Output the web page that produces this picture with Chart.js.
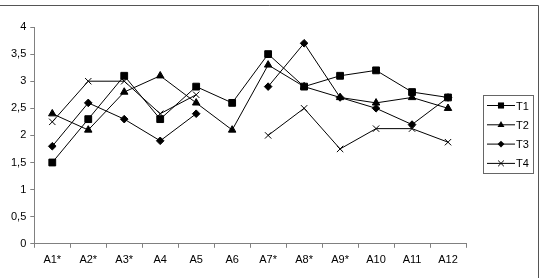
<!DOCTYPE html>
<html>
<head>
<meta charset="utf-8">
<script src="https://cdn.jsdelivr.net/npm/chart.js@4/dist/chart.umd.min.js"></script>
<style>
html,body{margin:0;padding:0;background:#fff;}
#wrap{width:541px;height:278px;position:relative;}
</style>
</head>
<body>
<div id="wrap"><canvas id="grafico"></canvas></div>
<script>
// datos
const categorias=['A1*','A2*','A3*','A4','A5','A6','A7*','A8*','A9*','A10','A11','A12'];
const t1=[1.5,2.3,3.1,2.3,2.9,2.6,3.5,2.9,3.1,3.2,2.8,2.7];
const t2=[2.4,2.1,2.8,3.1,2.6,2.1,3.3,2.9,2.7,2.6,2.7,2.5];
const t3=[1.8,2.6,2.3,1.9,2.4,null,2.9,3.7,2.7,2.5,2.2,2.7];
const t4=[2.25,3,3,2.4,2.75,null,2,2.5,1.75,2.125,2.125,1.875];
const series=['T1','T2','T3','T4'];
const ticksY=[0,0.5,1,1.5,2,2.5,3,3.5,4];

const fuente="'Liberation Sans', Arial, sans-serif";
const marcas=['rect','triangle','rectRot','crossRot'];
const radios=[4.8,4.3,3.8,4.5];

function dibujarMarca(ctx,tipo,x,y,r){
    ctx.beginPath();
    if(tipo=='rect'){
        let s=Math.SQRT1_2*r;
        ctx.rect(x-s,y-s,2*s,2*s);
        ctx.fill();
    }else if(tipo=='triangle'){
        ctx.moveTo(x,y-r);
        ctx.lineTo(x+r*0.9,y+r*0.6);
        ctx.lineTo(x-r*0.9,y+r*0.6);
        ctx.closePath();
        ctx.fill();
    }else if(tipo=='rectRot'){
        ctx.moveTo(x,y-r);ctx.lineTo(x+r,y);ctx.lineTo(x,y+r);ctx.lineTo(x-r,y);
        ctx.closePath();
        ctx.fill();
    }else{
        let s=Math.SQRT1_2*r;
        ctx.moveTo(x-s,y-s);ctx.lineTo(x+s,y+s);
        ctx.moveTo(x+s,y-s);ctx.lineTo(x-s,y+s);
        ctx.stroke();
    }
}

// marco y leyenda estilo excel
const marco={
    id:'marco',
    afterDraw(chart){
        const ctx=chart.ctx;
        ctx.save();
        ctx.strokeStyle='#555';
        ctx.lineWidth=1;
        ctx.beginPath();
        ctx.moveTo(0,5.5);ctx.lineTo(538.5,5.5);ctx.lineTo(538.5,278);
        ctx.stroke();
        // leyenda
        ctx.strokeStyle='#666';
        ctx.strokeRect(483.5,95.5,50,78);
        ctx.font='11px '+fuente;
        ctx.textBaseline='middle';
        ctx.textAlign='left';
        chart.data.datasets.forEach((ds,i)=>{
            let y=105.5+i*19.3;
            ctx.strokeStyle='#000';
            ctx.fillStyle='#000';
            ctx.beginPath();ctx.moveTo(487,y);ctx.lineTo(515,y);ctx.stroke();
            dibujarMarca(ctx,marcas[i],501,y,radios[i]*0.9);
            ctx.fillText(ds.label,516,y+1);
        });
        ctx.restore();
    }
};

let datos={
    labels:categorias,
    datasets:[t1,t2,t3,t4].map((d,i)=>({
        label:series[i],
        data:d,
        borderColor:'#000',
        backgroundColor:'#000',
        borderWidth:1,
        pointStyle:marcas[i],
        pointRadius:radios[i],
        pointBackgroundColor:'#000',
        pointBorderColor:'#000',
        pointBorderWidth:1,
        spanGaps:false,
        tension:0
    }))
};

new Chart(document.getElementById('grafico'),{
    type:'line',
    data:datos,
    options:{
        responsive:true,
        maintainAspectRatio:false,
        animation:false,
        layout:{padding:{left:7,right:75,top:27,bottom:5}},
        plugins:{legend:{display:false},tooltip:{enabled:false}},
        scales:{
            x:{
                offset:true,
                grid:{offset:true,drawOnChartArea:false,drawTicks:true,tickLength:4,color:'#808080'},
                border:{color:'#808080'},
                ticks:{color:'#000',font:{family:fuente,size:11},padding:6,maxRotation:0}
            },
            y:{
                min:0,max:4,
                afterBuildTicks(axis){axis.ticks=ticksY.map(v=>({value:v}));},
                grid:{drawOnChartArea:false,drawTicks:true,tickLength:4,color:'#808080'},
                border:{color:'#808080'},
                ticks:{color:'#000',font:{family:fuente,size:11},padding:4,
                    callback:v=>String(v).replace('.',',')}
            }
        }
    },
    plugins:[marco]
});
</script>
</body>
</html>
